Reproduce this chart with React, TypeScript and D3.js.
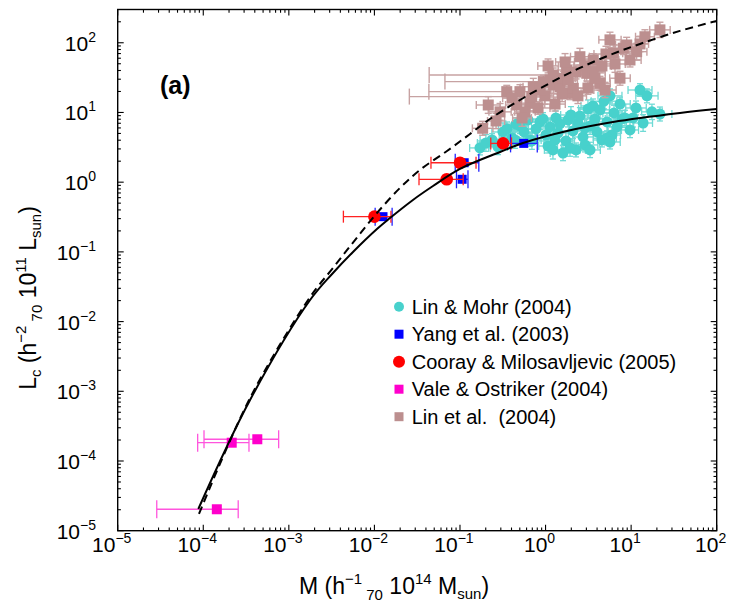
import React from "react";
import * as d3 from "d3";

const W = 731;
const H = 605;
const FONT = "'Liberation Sans', Arial, Helvetica, sans-serif";

const decadeExps = [-5, -4, -3, -2, -1, 0, 1, 2];

// model curves (M, L)
const solidM = [8.75e-5, 3.52e-4, 1.77e-3, 3.28e-3, 5.62e-3, 1.07e-2, 1.52e-2, 2.82e-2, 4.84e-2, 0.1, 0.294, 0.545, 1.78, 6.14, 37.2, 100];
const solidL = [2.05e-5, 7.5e-4, 2.04e-2, 4.98e-2, 9.98e-2, 0.213, 0.306, 0.556, 0.881, 1.55, 2.71, 3.65, 5.43, 7.31, 9.84, 11.2];
const dashM = [8.91e-5, 3.52e-4, 1.77e-3, 3.28e-3, 5.93e-3, 1.07e-2, 1.99e-2, 3.41e-2, 7.05e-2, 0.131, 0.224, 0.502, 1.13, 2.52, 5.66, 12.7, 37.2, 100];
const dashL = [1.74e-5, 8.0e-4, 2.25e-2, 5.87e-2, 0.148, 0.361, 0.826, 1.5, 2.8, 4.92, 8.07, 15.1, 26.5, 43.5, 66.8, 96.2, 148, 206];

// Lin & Mohr (2004)
const lmM = [0.171, 0.201, 0.237, 0.278, 0.318, 0.354, 0.406, 0.452, 0.502, 0.56, 0.624, 0.693, 0.773, 0.861, 0.933, 1.01, 1.07, 1.13, 1.22, 1.32, 1.4, 1.47, 1.6, 1.73, 1.83, 1.98, 2.09, 2.27, 2.39, 2.52, 2.74, 2.89, 3.13, 3.31, 3.58, 3.78, 3.99, 4.33, 4.56, 4.82, 5.22, 5.66, 5.97, 6.31, 6.84, 7.41, 7.82, 9.7, 10.5, 11.4, 12.7, 13.8, 15.3, 17.5, 21.7, 1.93, 3.31, 5.22, 0.658, 0.44, 5.66, 8.47, 2.89, 1.29];
const lmL = [3.1, 3.65, 4.03, 3.2, 5.25, 5.8, 4.31, 6.8, 6.4, 5.25, 7.8, 3.9, 5.8, 7.31, 8.07, 4.75, 3.3, 6.19, 2.9, 8.34, 5.08, 6.84, 2.62, 3.9, 7.8, 9.2, 5.43, 2.9, 7.06, 8.91, 4.45, 3.42, 11.2, 6.4, 12.4, 8.07, 5.25, 10.9, 4.03, 14.5, 7.31, 17.3, 4.75, 9.84, 6.19, 13.2, 8.07, 5.61, 8.34, 11.6, 21.0, 7.06, 17.3, 10.2, 9.5, 3.1, 2.9, 4.31, 4.03, 4.03, 3.77, 8.34, 6.0, 4.03];
const lmErrM = [0.12, 0.1, 0.14, 0.11, 0.13, 0.1, 0.15, 0.12, 0.1, 0.13, 0.11, 0.14, 0.12, 0.1, 0.16, 0.12, 0.11, 0.13, 0.1, 0.14, 0.12, 0.11, 0.15, 0.1, 0.13, 0.12, 0.14, 0.11, 0.1, 0.13, 0.12, 0.15, 0.11, 0.1, 0.14, 0.12, 0.13, 0.11, 0.1, 0.15, 0.12, 0.14, 0.1, 0.13, 0.11, 0.12, 0.15, 0.1, 0.13, 0.12, 0.14, 0.11, 0.13, 0.12, 0.14, 0.1, 0.12, 0.11, 0.13, 0.1, 0.12, 0.11, 0.14, 0.12];
const lmErrL = [0.1, 0.12, 0.09, 0.11, 0.13, 0.1, 0.12, 0.09, 0.11, 0.1, 0.13, 0.12, 0.1, 0.11, 0.09, 0.12, 0.1, 0.11, 0.13, 0.1, 0.12, 0.09, 0.11, 0.13, 0.1, 0.12, 0.11, 0.1, 0.09, 0.12, 0.11, 0.1, 0.13, 0.12, 0.1, 0.11, 0.09, 0.12, 0.1, 0.11, 0.13, 0.1, 0.12, 0.11, 0.09, 0.1, 0.12, 0.11, 0.13, 0.1, 0.09, 0.12, 0.1, 0.11, 0.1, 0.12, 0.11, 0.1, 0.09, 0.12, 0.1, 0.11, 0.12, 0.1];

// Yang et al. (2003)
const yangM = [0.0126, 0.106, 0.112, 0.556];
const yangL = [0.32, 1.1, 1.9, 3.6];
const yangMLo = [0.0102, 0.091, 0.088, 0.39];
const yangMHi = [0.0161, 0.124, 0.166, 0.80];

// Cooray & Milosavljevic (2005)
const cmM = [0.01, 0.07, 0.1, 0.319];
const cmL = [0.32, 1.1, 1.9, 3.6];
const cmMLo = [0.00434, 0.0332, 0.0458, 0.229];
const cmMHi = [0.0156, 0.109, 0.154, 0.4];

// Vale & Ostriker (2004)
const voM = [1.44e-4, 2.15e-4, 4.28e-4];
const voL = [2.03e-5, 1.83e-4, 2.05e-4];
const voMLo = [2.86e-5, 8.6e-5, 1.02e-4];
const voMHi = [2.56e-4, 3.42e-4, 7.6e-4];

// Lin et al. (2004)
const lnM = [0.184, 0.214, 0.264, 0.352, 0.46, 0.502, 0.658, 0.689, 0.719, 0.942, 1.13, 1.23, 1.23, 1.47, 1.61, 1.77, 1.93, 2.11, 2.52, 2.89, 3.03, 3.61, 3.61, 4.33, 5.66, 6.19, 7.41, 8.09, 8.87, 11.6, 14.5, 21.7, 0.294, 0.406, 0.575, 0.817, 0.984, 1.29, 1.56, 1.83, 2.27, 2.39, 3.13, 3.78, 4.56, 5.08, 6.48, 9.7, 12.7, 1.07, 1.69, 4.95, 0.861, 0.531];
const lnL = [5.93, 12.8, 7.55, 19.9, 12.8, 19.9, 13.6, 16.9, 23.4, 27.7, 29.3, 34.5, 24.8, 23.4, 31.0, 40.7, 18.8, 22.2, 63.1, 46.5, 36.5, 56.6, 38.5, 26.2, 110, 70.6, 31.0, 83.4, 92.9, 74.5, 122, 153, 10.2, 16.1, 10.2, 11.6, 17.3, 13.2, 18.4, 29.3, 38.1, 17.3, 22.4, 31.3, 46.5, 69.0, 49.6, 56.6, 96.2, 46.5, 53.0, 21.0, 21.0, 8.34];
const lnErrMLo = [0.12, 0.14, 0.1, 0.91, 0.13, 0.12, 0.11, 1.43, 0.12, 1.15, 0.13, 1.45, 0.11, 0.12, 0.14, 0.1, 0.13, 0.12, 0.11, 0.13, 0.12, 0.1, 0.14, 0.12, 0.13, 0.11, 0.12, 0.1, 0.13, 0.12, 0.11, 0.12, 0.13, 0.11, 0.12, 0.14, 0.1, 0.12, 0.13, 0.11, 0.12, 0.1, 0.13, 0.12, 0.11, 0.14, 0.12, 0.13, 0.1, 0.12, 0.11, 0.13, 0.12, 0.11];
const lnErrMHi = [0.12, 0.14, 0.1, 0.16, 0.13, 0.12, 0.11, 0.12, 0.12, 0.14, 0.13, 0.1, 0.11, 0.12, 0.14, 0.1, 0.13, 0.12, 0.11, 0.13, 0.12, 0.1, 0.14, 0.12, 0.13, 0.11, 0.12, 0.1, 0.13, 0.12, 0.11, 0.12, 0.13, 0.11, 0.12, 0.14, 0.1, 0.12, 0.13, 0.11, 0.12, 0.1, 0.13, 0.12, 0.11, 0.14, 0.12, 0.13, 0.1, 0.12, 0.11, 0.13, 0.12, 0.11];
const lnErrL = [0.1, 0.12, 0.11, 0.09, 0.12, 0.1, 0.11, 0.1, 0.12, 0.09, 0.11, 0.1, 0.12, 0.11, 0.1, 0.12, 0.09, 0.11, 0.12, 0.1, 0.11, 0.09, 0.12, 0.1, 0.11, 0.12, 0.1, 0.09, 0.11, 0.12, 0.1, 0.11, 0.12, 0.1, 0.11, 0.09, 0.12, 0.1, 0.11, 0.12, 0.1, 0.11, 0.09, 0.12, 0.1, 0.11, 0.12, 0.1, 0.11, 0.1, 0.12, 0.11, 0.1, 0.12];

const legendLabels = ["Lin & Mohr (2004)", "Yang et al. (2003)", "Cooray & Milosavljevic (2005)", "Vale & Ostriker (2004)", "Lin et al.\u00a0 (2004)"];
const legendColors = ["#48D1CC", "#0000FF", "#FF0000", "#FF00CC", "#BC8F8F"];
const legendShapes = ["circle", "square", "circle", "square", "square"];

const X0 = 117.7, X1 = 716.7, Y0 = 530.7, Y1 = 9.5;
const xS = d3.scaleLog().domain([1e-5, 1e2]).range([X0, X1]);
const yS = d3.scaleLog().domain([1e-5, 300]).range([Y0, Y1]);

const minorTicks = (maxV: number) => {
  const out: number[] = [];
  for (let e = -5; e <= 2; e++) {
    for (let k = 2; k <= 9; k++) {
      const v = k * Math.pow(10, e);
      if (v < maxV) out.push(v);
    }
  }
  return out;
};

function HBar({ x1, x2, y, cap, color, sw = 1.3 }: any) {
  return (
    <g stroke={color} strokeWidth={sw} fill="none">
      <line x1={x1} x2={x2} y1={y} y2={y} />
      <line x1={x1} x2={x1} y1={y - cap} y2={y + cap} />
      <line x1={x2} x2={x2} y1={y - cap} y2={y + cap} />
    </g>
  );
}
function VBar({ y1, y2, x, cap, color, sw = 1.3 }: any) {
  return (
    <g stroke={color} strokeWidth={sw} fill="none">
      <line x1={x} x2={x} y1={y1} y2={y2} />
      <line x1={x - cap} x2={x + cap} y1={y1} y2={y1} />
      <line x1={x - cap} x2={x + cap} y1={y2} y2={y2} />
    </g>
  );
}

export default function App() {
  const line = d3
    .line<[number, number]>()
    .x((d) => xS(d[0]))
    .y((d) => yS(d[1]))
    .curve(d3.curveCatmullRom.alpha(0.5));
  const solidPath = line(solidM.map((m, i) => [m, solidL[i]]) as [number, number][]) || "";
  const dashPath = line(dashM.map((m, i) => [m, dashL[i]]) as [number, number][]) || "";

  const tickLen = 6, minorLen = 3.2;
  const xMinor = minorTicks(1e2);
  const yMinor = minorTicks(300);

  const lmErrColor = "#6FDAD5";
  const lnErrColor = "#C7A2A2";

  return (
    <svg width={W} height={H} style={{ position: "absolute", left: 0, top: 0, background: "#fff" }} fontFamily={FONT}>
      <rect x={0} y={0} width={W} height={H} fill="#fff" />

      {/* Lin & Mohr error bars and points */}
      {lmM.map((m, i) => {
        const f = Math.pow(10, lmErrM[i]);
        const g = Math.pow(10, lmErrL[i]);
        return (
          <g key={"lme" + i}>
            <HBar x1={xS(m / f)} x2={xS(m * f)} y={yS(lmL[i])} cap={4} color={lmErrColor} sw={1.3} />
            <VBar y1={yS(lmL[i] / g)} y2={yS(lmL[i] * g)} x={xS(m)} cap={3} color={lmErrColor} sw={1.3} />
          </g>
        );
      })}
      {lmM.map((m, i) => (
        <circle key={"lm" + i} cx={xS(m)} cy={yS(lmL[i])} r={5.5} fill="#48D1CC" />
      ))}

      {/* Lin et al. error bars and points */}
      {lnM.map((m, i) => {
        const g = Math.pow(10, lnErrL[i]);
        return (
          <g key={"lne" + i}>
            <HBar x1={xS(m / Math.pow(10, lnErrMLo[i]))} x2={xS(m * Math.pow(10, lnErrMHi[i]))} y={yS(lnL[i])} cap={lnErrMLo[i] > 0.5 ? 8 : 4} color={lnErrColor} sw={1.4} />
            <VBar y1={yS(lnL[i] / g)} y2={yS(lnL[i] * g)} x={xS(m)} cap={3.5} color={lnErrColor} sw={1.4} />
          </g>
        );
      })}
      {lnM.map((m, i) => (
        <rect key={"ln" + i} x={xS(m) - 5.5} y={yS(lnL[i]) - 5.5} width={11} height={11} fill="#BC8F8F" />
      ))}

      {/* Vale & Ostriker */}
      {voM.map((m, i) => (
        <HBar key={"voe" + i} x1={xS(voMLo[i])} x2={xS(voMHi[i])} y={yS(voL[i])} cap={9} color="#FF55DD" sw={1.3} />
      ))}
      {voM.map((m, i) => (
        <rect key={"vo" + i} x={xS(m) - 5} y={yS(voL[i]) - 5} width={10} height={10} fill="#FF00CC" />
      ))}

      {/* Yang et al. */}
      {yangM.map((m, i) => (
        <HBar key={"ye" + i} x1={xS(yangMLo[i])} x2={xS(yangMHi[i])} y={yS(yangL[i])} cap={9} color="#2222FF" sw={1.3} />
      ))}
      {yangM.map((m, i) => (
        <rect key={"y" + i} x={xS(m) - 4.5} y={yS(yangL[i]) - 4.5} width={9} height={9} fill="#0000FF" />
      ))}

      {/* Cooray & Milosavljevic */}
      {cmM.map((m, i) => (
        <HBar key={"cme" + i} x1={xS(cmMLo[i])} x2={xS(cmMHi[i])} y={yS(cmL[i])} cap={6} color="#FF2222" sw={1.3} />
      ))}
      {cmM.map((m, i) => (
        <circle key={"cm" + i} cx={xS(m)} cy={yS(cmL[i])} r={6.3} fill="#FF0000" />
      ))}

      {/* model curves */}
      <path d={solidPath} fill="none" stroke="#000" strokeWidth={2} />
      <path d={dashPath} fill="none" stroke="#000" strokeWidth={2} strokeDasharray="8,5" />

      {/* frame */}
      <rect x={X0} y={Y1} width={X1 - X0} height={Y0 - Y1} fill="none" stroke="#000" strokeWidth={1.4} />

      {/* ticks */}
      <g stroke="#000" strokeWidth={1.1}>
        {decadeExps.map((e) => {
          const x = xS(Math.pow(10, e));
          return (
            <g key={"xt" + e}>
              <line x1={x} x2={x} y1={Y0} y2={Y0 - tickLen} />
              <line x1={x} x2={x} y1={Y1} y2={Y1 + tickLen} />
            </g>
          );
        })}
        {xMinor.map((v, i) => {
          const x = xS(v);
          return (
            <g key={"xm" + i}>
              <line x1={x} x2={x} y1={Y0} y2={Y0 - minorLen} />
              <line x1={x} x2={x} y1={Y1} y2={Y1 + minorLen} />
            </g>
          );
        })}
        {decadeExps.map((e) => {
          const y = yS(Math.pow(10, e));
          return (
            <g key={"yt" + e}>
              <line x1={X0} x2={X0 + tickLen} y1={y} y2={y} />
              <line x1={X1} x2={X1 - tickLen} y1={y} y2={y} />
            </g>
          );
        })}
        {yMinor.map((v, i) => {
          const y = yS(v);
          return (
            <g key={"ym" + i}>
              <line x1={X0} x2={X0 + minorLen} y1={y} y2={y} />
              <line x1={X1} x2={X1 - minorLen} y1={y} y2={y} />
            </g>
          );
        })}
      </g>

      {/* tick labels */}
      {decadeExps.map((e) => (
        <text key={"xl" + e} x={xS(Math.pow(10, e)) - 6} y={552} fontSize={21} textAnchor="middle" fill="#000">
          10<tspan dy={-9} fontSize={14}>{e < 0 ? "\u2212" + Math.abs(e) : String(e)}</tspan>
        </text>
      ))}
      {decadeExps.map((e) => (
        <text key={"yl" + e} x={96} y={yS(Math.pow(10, e)) + 8} fontSize={21} textAnchor="end" fill="#000">
          10<tspan dy={-9} fontSize={14}>{e < 0 ? "\u2212" + Math.abs(e) : String(e)}</tspan>
        </text>
      ))}

      {/* axis titles */}
      <text x={299} y={594} fontSize={23} fill="#000">
        M (h<tspan dy={-10} fontSize={15}>{"\u22121"}</tspan>
        <tspan dy={16} fontSize={15}>{" 70"}</tspan>
        <tspan dy={-6}>{" 10"}</tspan>
        <tspan dy={-10} fontSize={15}>14</tspan>
        <tspan dy={10}>{" M"}</tspan>
        <tspan dy={5} fontSize={15}>sun</tspan>
        <tspan dy={-5}>)</tspan>
      </text>
      <text transform="translate(36,298) rotate(-90)" fontSize={23} textAnchor="middle" fill="#000">
        L<tspan dy={5} fontSize={15}>c</tspan>
        <tspan dy={-5}>{" (h"}</tspan>
        <tspan dy={-10} fontSize={15}>{"\u22122"}</tspan>
        <tspan dy={16} fontSize={15}>{" 70"}</tspan>
        <tspan dy={-6}>{" 10"}</tspan>
        <tspan dy={-10} fontSize={15}>11</tspan>
        <tspan dy={10}>{" L"}</tspan>
        <tspan dy={5} fontSize={15}>sun</tspan>
        <tspan dy={-5}>)</tspan>
      </text>

      {/* panel label */}
      <text x={160} y={94} fontSize={25} fontWeight="bold" fill="#000">(a)</text>

      {/* legend */}
      {legendLabels.map((lab, i) => {
        const cy = 306.7 + i * 27.5;
        const c = legendColors[i];
        return (
          <g key={"lg" + i}>
            {legendShapes[i] === "circle" ? (
              <circle cx={399} cy={cy} r={i === 2 ? 6 : 5} fill={c} />
            ) : (
              <rect x={399 - 4.5} y={cy - 4.5} width={9} height={9} fill={c} />
            )}
            <text x={411.7} y={cy + 7} fontSize={20} fill="#000">{lab}</text>
          </g>
        );
      })}
    </svg>
  );
}
